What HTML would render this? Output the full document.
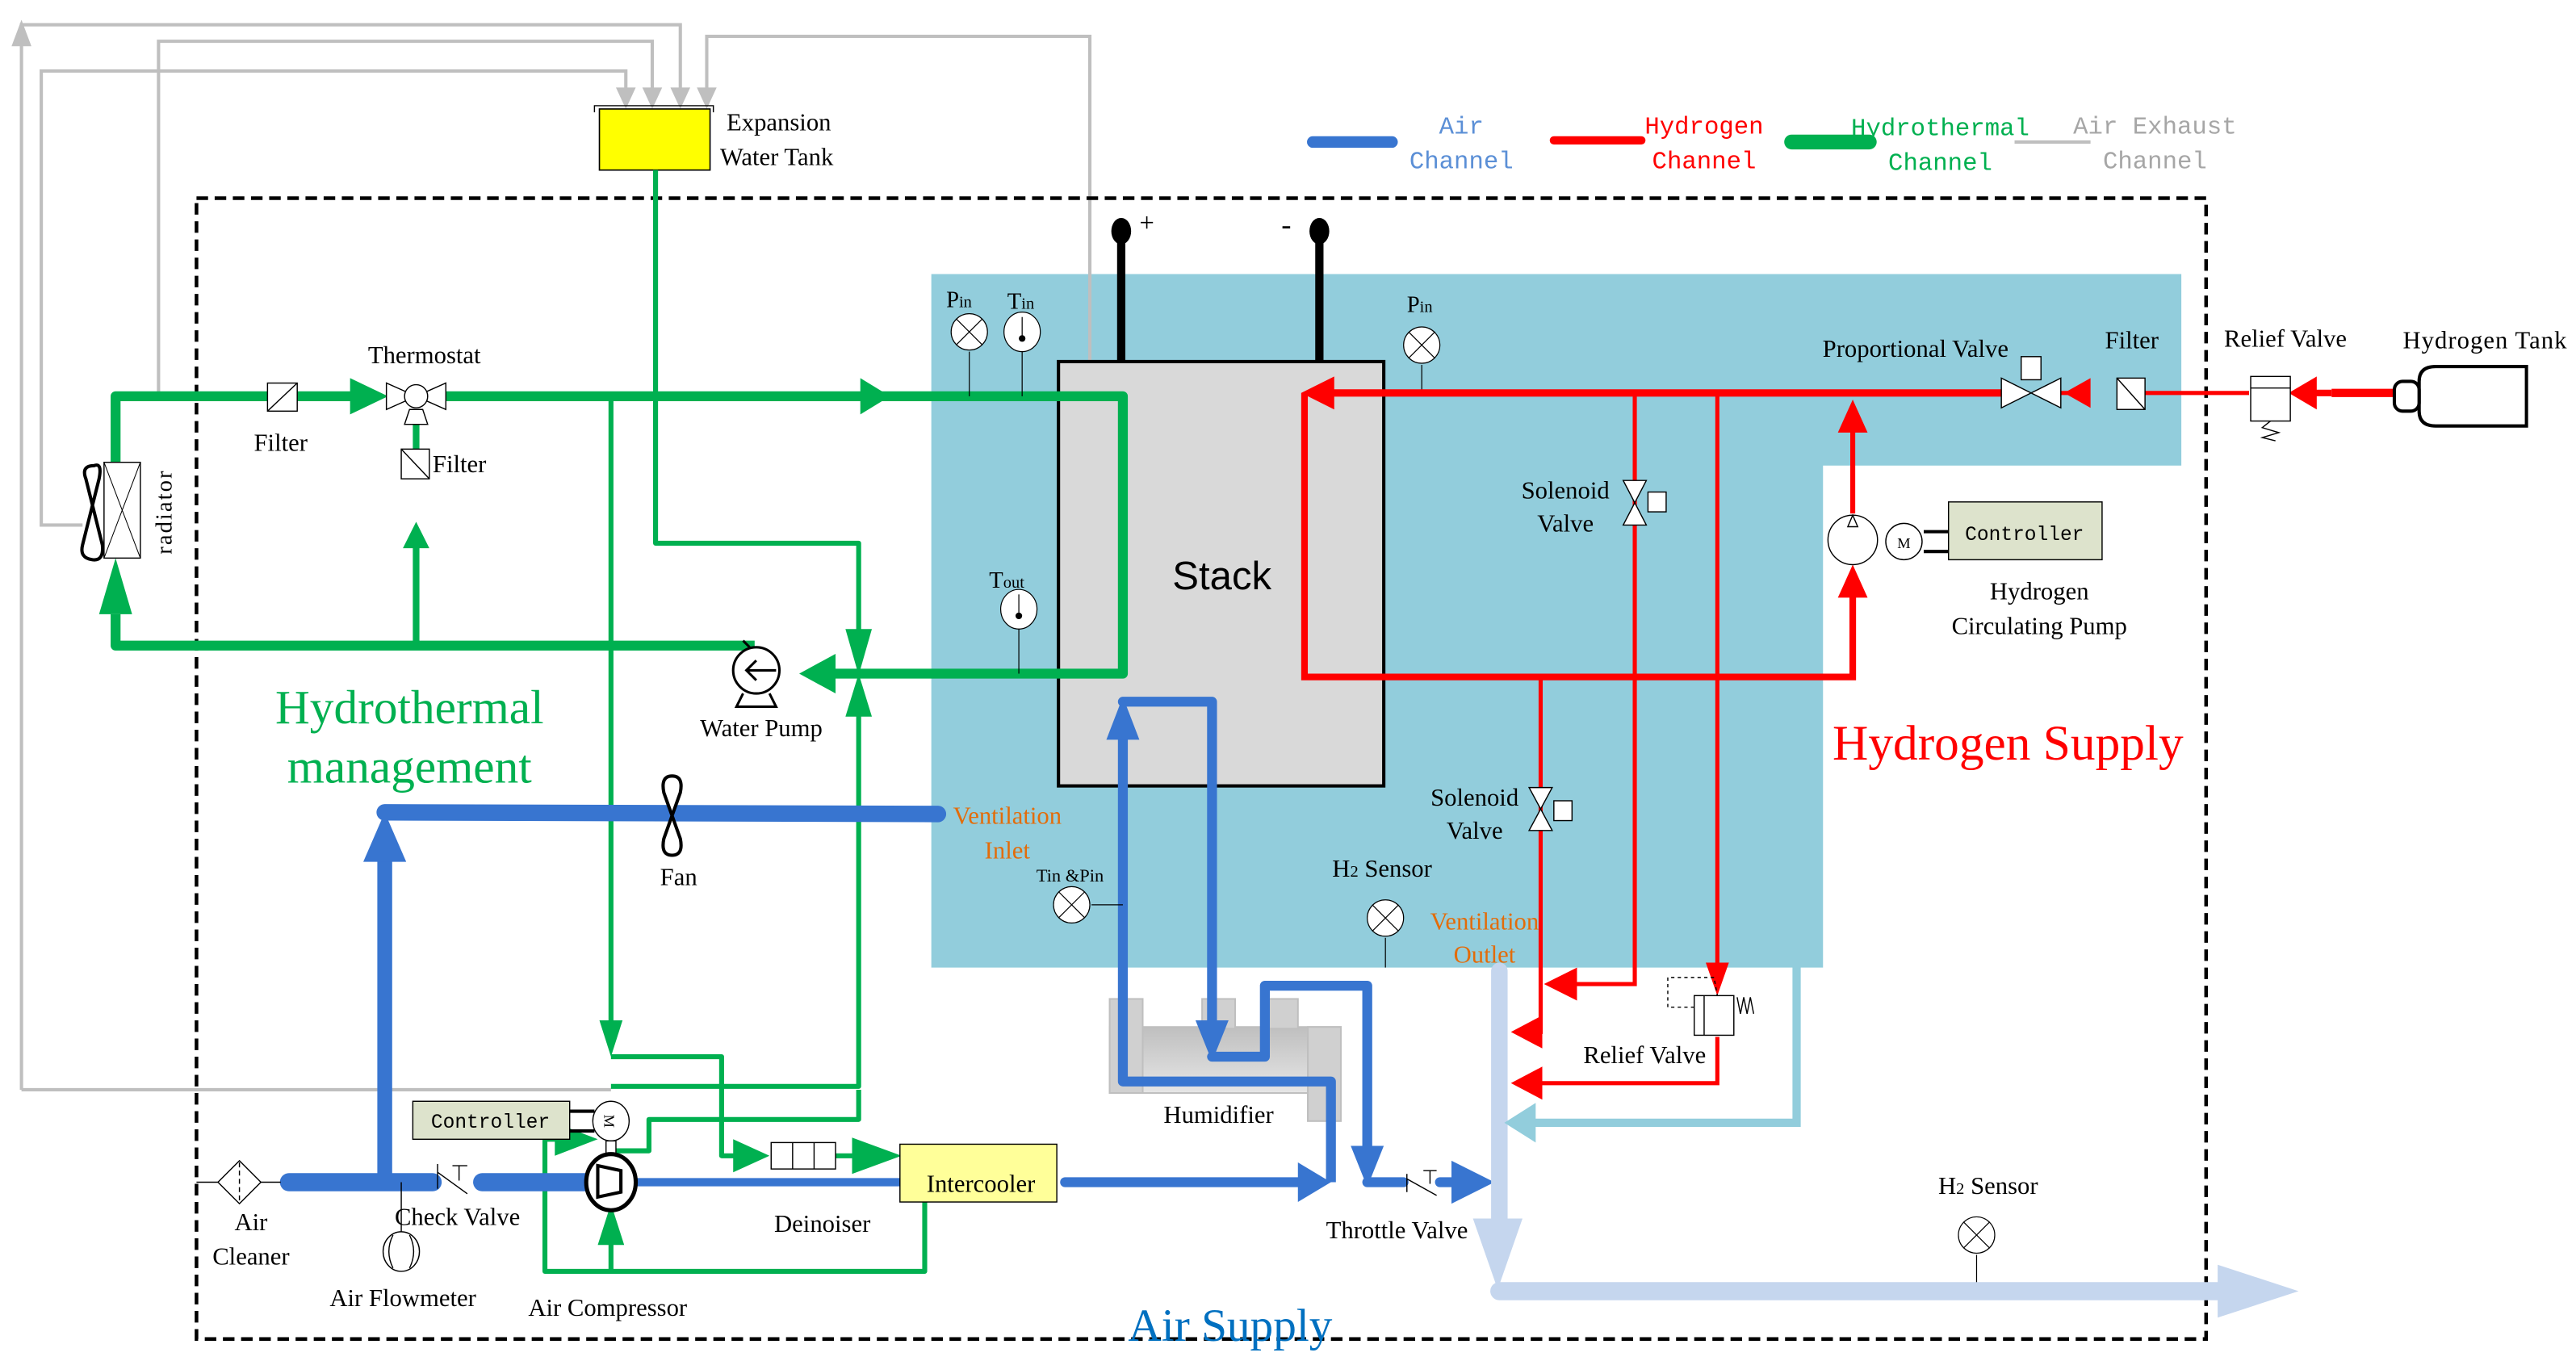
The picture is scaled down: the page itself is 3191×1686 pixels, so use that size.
<!DOCTYPE html>
<html><head><meta charset="utf-8"><style>
html,body{margin:0;padding:0;background:#fff;}
svg{display:block;}
text{font-family:"Liberation Serif",serif;fill:#000;}
</style></head><body>
<svg width="3191" height="1686" viewBox="0 0 1560 824.3" preserveAspectRatio="none" xmlns="http://www.w3.org/2000/svg">
<rect x="0" y="0" width="1560" height="825" fill="#fff"/>
<polygon points="564,166 1321,166 1321,282 1104,282 1104,586 564,586" fill="#92cddc"/>
<g fill="none" stroke="#bfbfbf" stroke-width="2">
<path d="M13,660 L13,15 L412,15 L412,56"/>
<path d="M50,318 L25,318 L25,43 L379,43 L379,56"/>
<path d="M96,240 L96,25 L395,25 L395,56"/>
<path d="M660,219 L660,22 L428,22 L428,56"/>
<path d="M13,660 L370,660"/>
</g>
<g fill="#bfbfbf">
<polygon points="13,12 7,28 19,28"/>
<polygon points="373,53 385,53 379,66"/><polygon points="389,53 401,53 395,66"/>
<polygon points="406,53 418,53 412,66"/><polygon points="422,53 434,53 428,66"/>
</g>
<rect x="119" y="120" width="1217" height="691" fill="none" stroke="#000" stroke-width="2.2" stroke-dasharray="7,4"/>
<path d="M360,68 L360,64 L432,64 L432,68" fill="none" stroke="#000" stroke-width="0.7"/>
<rect x="363" y="66" width="67" height="37" fill="#ffff00" stroke="#000" stroke-width="0.8"/>
<text x="440" y="79" font-size="15">Expansion</text>
<text x="436" y="100" font-size="15">Water Tank</text>
<rect x="641" y="219" width="197" height="257" fill="#d9d9d9" stroke="#000" stroke-width="2"/>
<text x="740" y="357" font-size="24" text-anchor="middle" style="font-family:'Liberation Sans',sans-serif">Stack</text>
<line x1="679" y1="219" x2="679" y2="140" stroke="#000" stroke-width="5"/>
<ellipse cx="679" cy="140" rx="6" ry="8" fill="#000"/>
<line x1="799" y1="219" x2="799" y2="140" stroke="#000" stroke-width="5"/>
<ellipse cx="799" cy="140" rx="6" ry="8" fill="#000"/>
<text x="690" y="140" font-size="16">+</text>
<text x="776" y="142" font-size="18">-</text>
<defs><linearGradient id="hg" x1="0" y1="0" x2="0" y2="1"><stop offset="0" stop-color="#bfbfbf"/><stop offset="1" stop-color="#e6e6e6"/></linearGradient></defs>
<rect x="672" y="622" width="140" height="40" fill="url(#hg)" stroke="#bfbfbf"/>
<rect x="672" y="605" width="20" height="57" fill="#d0d0d0" stroke="#bfbfbf"/>
<rect x="728" y="605" width="20" height="18" fill="#d0d0d0" stroke="#bfbfbf"/>
<rect x="766" y="605" width="20" height="18" fill="#d0d0d0" stroke="#bfbfbf"/>
<rect x="792" y="622" width="20" height="57" fill="#d0d0d0" stroke="#bfbfbf"/>
<text x="738" y="680" font-size="15" text-anchor="middle">Humidifier</text>

<g fill="none" stroke="#00b050" stroke-linejoin="round">
<path d="M70,372 L70,391 L457,391" stroke-width="6"/>
<path d="M70,280 L70,240 L162,240 M179,240 L215,240 M270,240 L680,240 L680,408 L500,408" stroke-width="6"/>
<path d="M252,391 L252,330 M252,290 L252,250" stroke-width="4"/>
<path d="M397,103 L397,329 L520,329 L520,390" stroke-width="3"/>
<path d="M520,430 L520,658 L370,658 M370,240 L370,622 M370,640 L437,640 L437,700 L447,700 M506,700 L516,700 M520,660 L520,678 L393,678 L393,697 L372,697" stroke-width="3"/>
<path d="M560,728 L560,770 L330,770 L330,690 L340,690 M370,770 L370,752" stroke-width="3"/>
</g>
<g fill="#00b050">
<polygon points="70,338 60,372 80,372"/>
<polygon points="252,316 244,332 260,332"/>
<polygon points="539,240 521,229 521,251"/>
<polygon points="235,240 212,229 212,251"/>
<polygon points="484,408 506,396 506,420"/>
<polygon points="520,409 512,381 528,381"/>
<polygon points="520,408 512,434 528,434"/>
<polygon points="370,640 363,618 377,618"/>
<polygon points="466,700 444,690 444,710"/>
<polygon points="546,700 516,689 516,711"/>
<polygon points="362,690 336,680 336,700"/>
<polygon points="370,729 362,754 378,754"/>
</g>
<g stroke="#000" stroke-width="0.7" fill="#fff">
<polygon points="234,232 234,248 270,232 270,248"/>
<circle cx="252" cy="240" r="7"/>
<polygon points="248,248 256,248 259,257 245,257"/>
<rect x="162" y="232" width="18" height="17"/><line x1="180" y1="232" x2="162" y2="249"/>
<rect x="243" y="272" width="17" height="18"/><line x1="243" y1="272" x2="260" y2="290"/>
</g>
<text x="257" y="220" font-size="15" text-anchor="middle">Thermostat</text>
<text x="170" y="273" font-size="15" text-anchor="middle">Filter</text>
<text x="262" y="286" font-size="15">Filter</text>
<rect x="63" y="280" width="22" height="58" fill="#fff" stroke="#000" stroke-width="0.7"/>
<path d="M63,280 L85,338 M85,280 L63,338" stroke="#000" stroke-width="0.5"/>
<path d="M57,282 Q49,282 52,290 L62,330 Q63,340 56,339 Q48,338 50,330 L60,290 Q62,280 57,282Z" fill="none" stroke="#000" stroke-width="2"/>
<text transform="translate(104,310) rotate(-90)" font-size="14" text-anchor="middle" letter-spacing="1">radiator</text>
<ellipse cx="458" cy="406" rx="14" ry="14" fill="#fff" stroke="#000" stroke-width="1.5"/>
<path d="M450,420 L446,428 L470,428 L466,420" fill="none" stroke="#000" stroke-width="1.5"/>
<path d="M470,406 L452,406 M458,400 L452,406 L458,412" fill="none" stroke="#000" stroke-width="1.5"/>
<path d="M454,392 L450,388" stroke="#000" stroke-width="1.5"/>
<text x="461" y="446" font-size="15" text-anchor="middle">Water Pump</text>
<text x="248" y="438" font-size="29" text-anchor="middle" style="fill:#00b050">Hydrothermal</text>
<text x="248" y="474" font-size="29" text-anchor="middle" style="fill:#00b050">management</text>

<g fill="none" stroke="#3875d0" stroke-linecap="round" stroke-linejoin="round">
<path d="M175,716 L262,716 M292,716 L355,716" stroke-width="11"/>
<path d="M233,716 L233,515" stroke-width="9"/>
<path d="M233,492 L568,493" stroke-width="10"/>
<path d="M385,716 L545,716" stroke-width="5"/>
<path d="M645,716 L790,716" stroke-width="6"/>
<path d="M680,445 L680,655 L806,655 L806,716" stroke-width="6" stroke-linecap="butt"/>
<path d="M680,425 L734,425 L734,622 M734,640 L766,640 L766,597 L828,597 L828,700 M828,716 L850,716 M872,716 L880,716" stroke-width="6"/>
</g>
<g fill="#3875d0">
<polygon points="233,492 220,522 246,522"/>
<polygon points="680,422 670,448 690,448"/>
<polygon points="734,643 724,618 744,618"/>
<polygon points="806,716 786,704 786,728"/>
<polygon points="828,719 818,694 838,694"/>
<polygon points="905,716 879,703 879,729"/>
</g>
<path d="M407,470 Q400,470 402,480 L407,494 L412,480 Q414,470 407,470Z M407,494 L402,508 Q400,518 407,518 Q414,518 412,508Z" fill="#fff" stroke="#000" stroke-width="2"/>
<text x="411" y="536" font-size="15" text-anchor="middle">Fan</text>
<text x="610" y="499" font-size="15" text-anchor="middle" style="fill:#e36c09">Ventilation</text>
<text x="610" y="520" font-size="15" text-anchor="middle" style="fill:#e36c09">Inlet</text>
<g stroke="#000" stroke-width="0.6" fill="#fff">
<line x1="661" y1="548" x2="680" y2="548"/>
<circle cx="649" cy="548" r="11"/><path d="M641,540 L657,556 M657,540 L641,556"/>
<line x1="587" y1="213" x2="587" y2="240"/><circle cx="587" cy="201" r="11"/><path d="M579,193 L595,209 M595,193 L579,209"/>
<line x1="619" y1="213" x2="619" y2="240"/><ellipse cx="619" cy="201" rx="11" ry="12"/><line x1="619" y1="192" x2="619" y2="205"/>
<line x1="617" y1="381" x2="617" y2="408"/><ellipse cx="617" cy="369" rx="11" ry="12"/><line x1="617" y1="360" x2="617" y2="373"/>
<line x1="861" y1="221" x2="861" y2="238"/><circle cx="861" cy="209" r="11"/><path d="M853,201 L869,217 M869,201 L853,217"/>
<line x1="839" y1="568" x2="839" y2="586"/><circle cx="839" cy="556" r="11"/><path d="M831,548 L847,564 M847,548 L831,564"/>
<line x1="1197" y1="760" x2="1197" y2="782"/><circle cx="1197" cy="748" r="11"/><path d="M1189,740 L1205,756 M1205,740 L1189,756"/>
</g>
<circle cx="619" cy="205" r="2" fill="#000"/><circle cx="617" cy="373" r="2" fill="#000"/>
<text x="573" y="186" font-size="14">P<tspan font-size="10">in</tspan></text>
<text x="610" y="187" font-size="14">T<tspan font-size="10">in</tspan></text>
<text x="599" y="356" font-size="14">T<tspan font-size="10">out</tspan></text>
<text x="852" y="189" font-size="14">P<tspan font-size="10">in</tspan></text>
<text x="648" y="534" font-size="11" text-anchor="middle">Tin &amp;Pin</text>
<text x="837" y="531" font-size="15" text-anchor="middle">H<tspan font-size="10">2</tspan> Sensor</text>
<text x="1204" y="723" font-size="15" text-anchor="middle">H<tspan font-size="10">2</tspan> Sensor</text>
<text x="899" y="563" font-size="15" text-anchor="middle" style="fill:#e36c09">Ventilation</text>
<text x="899" y="583" font-size="15" text-anchor="middle" style="fill:#e36c09">Outlet</text>

<g fill="none" stroke-linecap="round">
<path d="M1088,586 L1088,680 L928,680" stroke="#92cddc" stroke-width="5"/>
<path d="M908,588 L908,745" stroke="#c5d6ee" stroke-width="10"/>
<path d="M908,782 L1350,782" stroke="#c5d6ee" stroke-width="11"/>
</g>
<polygon points="911,680 930,668 930,692" fill="#92cddc"/>
<polygon points="892,738 922,738 907,781" fill="#c5d6ee"/>
<polygon points="1343,766 1392,782 1343,798" fill="#c5d6ee"/>

<g fill="none" stroke="#ff0000" stroke-linejoin="miter">
<path d="M1212,238 L805,238" stroke-width="4.5"/>
<path d="M790,238 L790,410 L1122,410 L1122,360" stroke-width="4"/>
<path d="M1122,311 L1122,260" stroke-width="3"/>
<path d="M1265,238 L1248,238 M1299,238 L1362,238" stroke-width="2.5"/>
<path d="M1398,238 L1412,238" stroke-width="4"/>
<path d="M1412,238 L1465,238" stroke-width="5"/>
<path d="M990,238 L990,596 L952,596" stroke-width="2.5"/>
<path d="M933,410 L933,625 L930,625" stroke-width="2.5"/>
<path d="M1040,238 L1040,585 M1040,628 L1040,656 L930,656" stroke-width="2.5"/>
</g>
<g fill="#ff0000">
<polygon points="788,238 808,228 808,248"/>
<polygon points="1122,242 1113,262 1131,262"/>
<polygon points="1122,342 1113,362 1131,362"/>
<polygon points="1250,238 1266,229 1266,247"/>
<polygon points="1386,238 1403,228 1403,248"/>
<polygon points="935,596 955,586 955,606"/>
<polygon points="915,625 934,615 934,635"/>
<polygon points="915,656 934,646 934,666"/>
<polygon points="1040,603 1033,583 1047,583"/>
</g>
<g stroke="#000" stroke-width="0.7" fill="#fff">
<polygon points="1212,229 1212,247 1248,229 1248,247"/>
<rect x="1224" y="216" width="12" height="14"/>
<rect x="1282" y="229" width="17" height="19"/><line x1="1282" y1="229" x2="1299" y2="248"/>
<polygon points="983,291 997,291 983,318 997,318"/><rect x="998" y="298" width="11" height="12"/>
<polygon points="926,477 940,477 926,503 940,503"/><rect x="941" y="485" width="11" height="12"/>
<rect x="1363" y="228" width="24" height="27"/><line x1="1363" y1="235" x2="1387" y2="235"/>
<path d="M1375,255 L1370,259 L1380,262 L1370,265 L1378,267" fill="none"/>
<rect x="1026" y="603" width="24" height="24"/><line x1="1032" y1="603" x2="1032" y2="627"/>
<path d="M1052,604 L1054,614 L1056,604 L1058,614 L1060,604 L1062,614" fill="none"/>
<path d="M1026,610 L1010,610 L1010,592 L1038,592 L1040,603" fill="none" stroke-dasharray="2,2"/>
<circle cx="1122" cy="327" r="15"/>
<polygon points="1122,312 1119,319 1125,319"/>
<ellipse cx="1153" cy="328" rx="11" ry="11"/>
<rect x="1180" y="304" width="93" height="35" fill="#dde3cc"/>
</g>
<line x1="1165" y1="322" x2="1180" y2="322" stroke="#000" stroke-width="2"/>
<line x1="1165" y1="334" x2="1180" y2="334" stroke="#000" stroke-width="2"/>
<text x="1153" y="332" font-size="9" text-anchor="middle">M</text>
<text x="1226" y="327" font-size="12" text-anchor="middle" style="font-family:'Liberation Mono',monospace">Controller</text>
<path d="M1465,231 Q1465,222 1475,222 L1530,222 L1530,258 L1475,258 Q1465,258 1465,249 Z" fill="#fff" stroke="#000" stroke-width="2"/>
<rect x="1450" y="231" width="15" height="18" rx="5" fill="#fff" stroke="#000" stroke-width="2"/>
<text x="1160" y="216" font-size="15" text-anchor="middle">Proportional Valve</text>
<text x="1291" y="211" font-size="15" text-anchor="middle">Filter</text>
<text x="1384" y="210" font-size="15" text-anchor="middle">Relief Valve</text>
<text x="1505" y="211" font-size="15" text-anchor="middle" letter-spacing="0.5">Hydrogen  Tank</text>
<text x="948" y="302" font-size="15" text-anchor="middle">Solenoid</text>
<text x="948" y="322" font-size="15" text-anchor="middle">Valve</text>
<text x="893" y="488" font-size="15" text-anchor="middle">Solenoid</text>
<text x="893" y="508" font-size="15" text-anchor="middle">Valve</text>
<text x="996" y="644" font-size="15" text-anchor="middle">Relief Valve</text>
<text x="1235" y="363" font-size="15" text-anchor="middle">Hydrogen</text>
<text x="1235" y="384" font-size="15" text-anchor="middle">Circulating Pump</text>
<text x="1216" y="460" font-size="30" text-anchor="middle" style="fill:#ff0000">Hydrogen Supply</text>

<g stroke="#000" stroke-width="0.7" fill="#fff">
<line x1="119" y1="716" x2="132" y2="716"/><line x1="158" y1="716" x2="170" y2="716"/>
<polygon points="145,703 158,716 145,729 132,716"/>
<line x1="145" y1="704" x2="145" y2="728" stroke-dasharray="3,2"/>
<line x1="243" y1="716" x2="243" y2="747"/>
<ellipse cx="243" cy="758" rx="11" ry="12"/>
<path d="M238,748 Q233,758 238,768 M248,748 Q253,758 248,768" fill="none"/>
<path d="M265,705 L265,720 M265,710 L283,723 M274,706 L283,706 M278,706 L278,715" fill="none"/>
<rect x="250" y="667" width="95" height="23" fill="#dde3cc"/>
<ellipse cx="370" cy="679" rx="11" ry="12"/>
<rect x="367" y="691" width="6" height="9"/>
<rect x="467" y="692" width="39" height="16"/><line x1="480" y1="692" x2="480" y2="708"/><line x1="493" y1="692" x2="493" y2="708"/>
<rect x="545" y="693" width="95" height="35" fill="#ffff99"/>
<path d="M852,711 L852,722 M852,714 L870,724 M862,709 L870,709 M866,709 L866,717" fill="none"/>
</g>
<ellipse cx="370" cy="716" rx="15" ry="17" fill="#fff" stroke="#000" stroke-width="2.5"/>
<polygon points="362,706 376,709 376,722 362,725" fill="#fff" stroke="#000" stroke-width="2"/>
<line x1="345" y1="673" x2="360" y2="673" stroke="#000" stroke-width="2"/>
<line x1="345" y1="685" x2="360" y2="685" stroke="#000" stroke-width="2"/>
<text transform="translate(366,679) rotate(90)" font-size="9" text-anchor="middle">M</text>
<text x="297" y="683" font-size="12" text-anchor="middle" style="font-family:'Liberation Mono',monospace">Controller</text>
<text x="152" y="745" font-size="15" text-anchor="middle">Air</text>
<text x="152" y="766" font-size="15" text-anchor="middle">Cleaner</text>
<text x="277" y="742" font-size="15" text-anchor="middle">Check Valve</text>
<text x="244" y="791" font-size="15" text-anchor="middle">Air Flowmeter</text>
<text x="368" y="797" font-size="15" text-anchor="middle">Air Compressor</text>
<text x="498" y="746" font-size="15" text-anchor="middle">Deinoiser</text>
<text x="594" y="722" font-size="15" text-anchor="middle">Intercooler</text>
<text x="846" y="750" font-size="15" text-anchor="middle">Throttle Valve</text>
<text x="745" y="812" font-size="28" text-anchor="middle" style="fill:#0070c0">Air Supply</text>

<line x1="795" y1="86" x2="843" y2="86" stroke="#3875d0" stroke-width="7" stroke-linecap="round"/>
<line x1="941" y1="85" x2="994" y2="85" stroke="#ff0000" stroke-width="5" stroke-linecap="round"/>
<line x1="1085" y1="86" x2="1132" y2="86" stroke="#00b050" stroke-width="9" stroke-linecap="round"/>
<line x1="1220" y1="86" x2="1266" y2="86" stroke="#bfbfbf" stroke-width="2"/>
<g font-size="15" text-anchor="middle">
<text x="885" y="81" style="fill:#5b8fd6;font-family:'Liberation Mono',monospace">Air</text>
<text x="885" y="102" style="fill:#5b8fd6;font-family:'Liberation Mono',monospace">Channel</text>
<text x="1032" y="81" style="fill:#ff0000;font-family:'Liberation Mono',monospace">Hydrogen</text>
<text x="1032" y="102" style="fill:#ff0000;font-family:'Liberation Mono',monospace">Channel</text>
<text x="1175" y="82" style="fill:#00b050;font-family:'Liberation Mono',monospace">Hydrothermal</text>
<text x="1175" y="103" style="fill:#00b050;font-family:'Liberation Mono',monospace">Channel</text>
<text x="1305" y="81" style="fill:#a6a6a6;font-family:'Liberation Mono',monospace">Air Exhaust</text>
<text x="1305" y="102" style="fill:#a6a6a6;font-family:'Liberation Mono',monospace">Channel</text>
</g>
</svg>
</body></html>
